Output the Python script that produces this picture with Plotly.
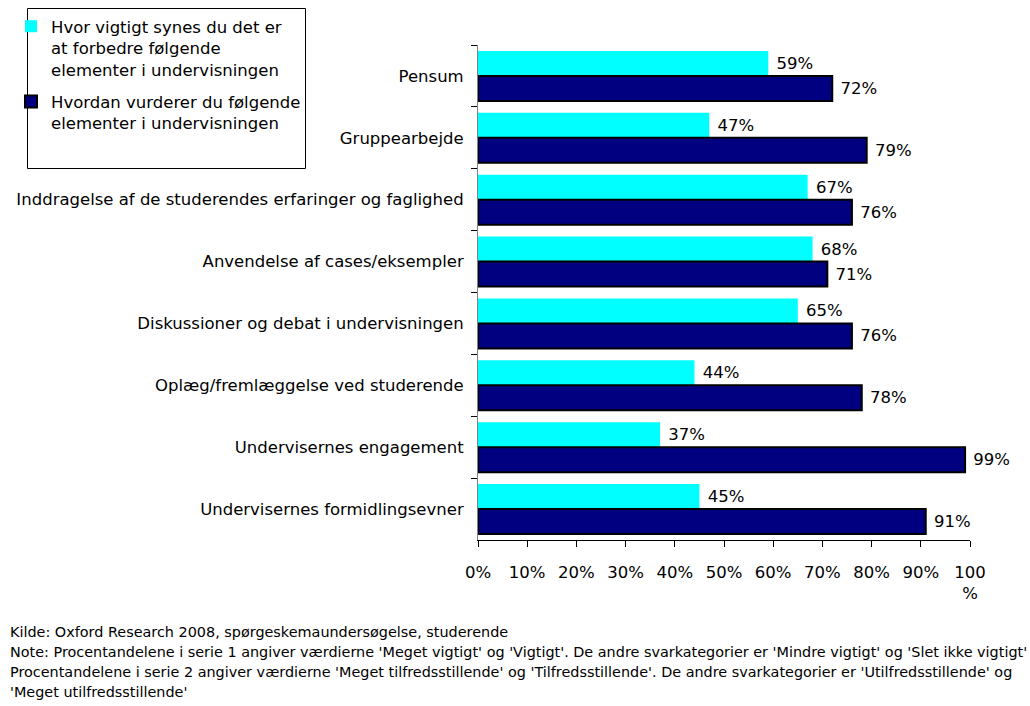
import plotly.graph_objects as go

# ---------------- data ----------------
categories = [
    "Pensum",
    "Gruppearbejde",
    "Inddragelse af de studerendes erfaringer og faglighed",
    "Anvendelse af cases/eksempler",
    "Diskussioner og debat i undervisningen",
    "Oplæg/fremlæggelse ved studerende",
    "Undervisernes engagement",
    "Undervisernes formidlingsevner",
]
importance_pct = [59, 47, 67, 68, 65, 44, 37, 45]
rating_pct = [72, 79, 76, 71, 76, 78, 99, 91]

series_names = [
    "Hvor vigtigt synes du det er<br>at forbedre følgende<br>elementer i undervisningen",
    "Hvordan vurderer du følgende<br>elementer i undervisningen",
]

x_tickvals = [0, 10, 20, 30, 40, 50, 60, 70, 80, 90, 100]
x_ticktext = ["0%", "10%", "20%", "30%", "40%", "50%", "60%", "70%", "80%", "90%", "100<br>%"]

note_lines = [
    "Kilde: Oxford Research 2008, spørgeskemaundersøgelse, studerende",
    "Note: Procentandelene i serie 1 angiver værdierne 'Meget vigtigt' og 'Vigtigt'. De andre svarkategorier er 'Mindre vigtigt' og 'Slet ikke vigtigt'",
    "Procentandelene i serie 2 angiver værdierne 'Meget tilfredsstillende' og 'Tilfredsstillende'. De andre svarkategorier er 'Utilfredsstillende' og",
    "'Meget utilfredsstillende'",
]

# ---------------- layout geometry ----------------
W, H = 1030, 706
ML, MR, MT, MB = 478, 60, 45, 166
PW = W - ML - MR
PH = H - MT - MB
FONT = "DejaVu Sans"


def px_x(px):
    return (px - ML) / PW


def px_y(py):
    return (H - MB - py) / PH


fig = go.Figure()

fig.add_trace(go.Bar(
    y=categories, x=importance_pct, orientation="h",
    name=series_names[0], legendgroup="a",
    marker=dict(color="#00FFFF", line=dict(width=0)),
    texttemplate=" %{x}%", textposition="outside",
    textfont=dict(size=16.5, color="black", family=FONT),
    cliponaxis=False, constraintext="none",
))
fig.add_trace(go.Bar(
    y=categories, x=rating_pct, orientation="h",
    name=series_names[1], legendgroup="b",
    marker=dict(color="#000080", line=dict(width=2, color="black")),
    texttemplate=" %{x}%", textposition="outside",
    textfont=dict(size=16.5, color="black", family=FONT),
    cliponaxis=False, constraintext="none",
))

shapes = [
    dict(type="rect", xref="paper", yref="paper",
         x0=px_x(27.5), x1=px_x(305.5), y0=px_y(8.5), y1=px_y(168.5),
         line=dict(color="black", width=1), fillcolor="rgba(0,0,0,0)", layer="above"),
]

annotations = []
for i, line in enumerate(note_lines):
    annotations.append(dict(
        text=line, xref="paper", yref="paper",
        x=px_x(8), y=px_y(632 + 20 * i),
        xanchor="left", yanchor="middle", showarrow=False,
        font=dict(size=14.4, color="black", family=FONT),
    ))

fig.update_layout(
    width=W, height=H,
    margin=dict(l=ML, r=MR, t=MT, b=MB, pad=0, autoexpand=False),
    paper_bgcolor="white", plot_bgcolor="white",
    font=dict(family=FONT, size=16, color="black"),
    barmode="group", bargap=0.19, bargroupgap=0,
    showlegend=True,
    legend=dict(
        xref="container", yref="container",
        x=11 / W, y=1 - 9 / H, xanchor="left", yanchor="top",
        valign="top", bgcolor="rgba(0,0,0,0)", borderwidth=0,
        font=dict(size=16.5, color="black", family=FONT),
        traceorder="grouped", tracegroupgap=8,
    ),
    shapes=shapes,
    annotations=annotations,
    xaxis=dict(
        range=[0, 100], tickvals=x_tickvals, ticktext=x_ticktext,
        showgrid=False, zeroline=False, showline=True, linecolor="black", linewidth=1,
        ticks="outside", ticklen=6, tickcolor="black", tickangle=0, automargin=False,
        tickfont=dict(size=16.5, color="black", family=FONT),
        ticklabelstandoff=11, fixedrange=True,
    ),
    yaxis=dict(
        type="category", autorange="reversed", automargin=False,
        showgrid=False, zeroline=False, showline=True, linecolor="#808080", linewidth=1,
        ticks="outside", ticklen=6, tickcolor="black", tickson="boundaries",
        tickfont=dict(size=16.5, color="black", family=FONT),
        ticklabelstandoff=10, fixedrange=True,
    ),
)

fig.write_html("out.html", config={"displayModeBar": False},
               post_script="document.body.style.margin='0';")
